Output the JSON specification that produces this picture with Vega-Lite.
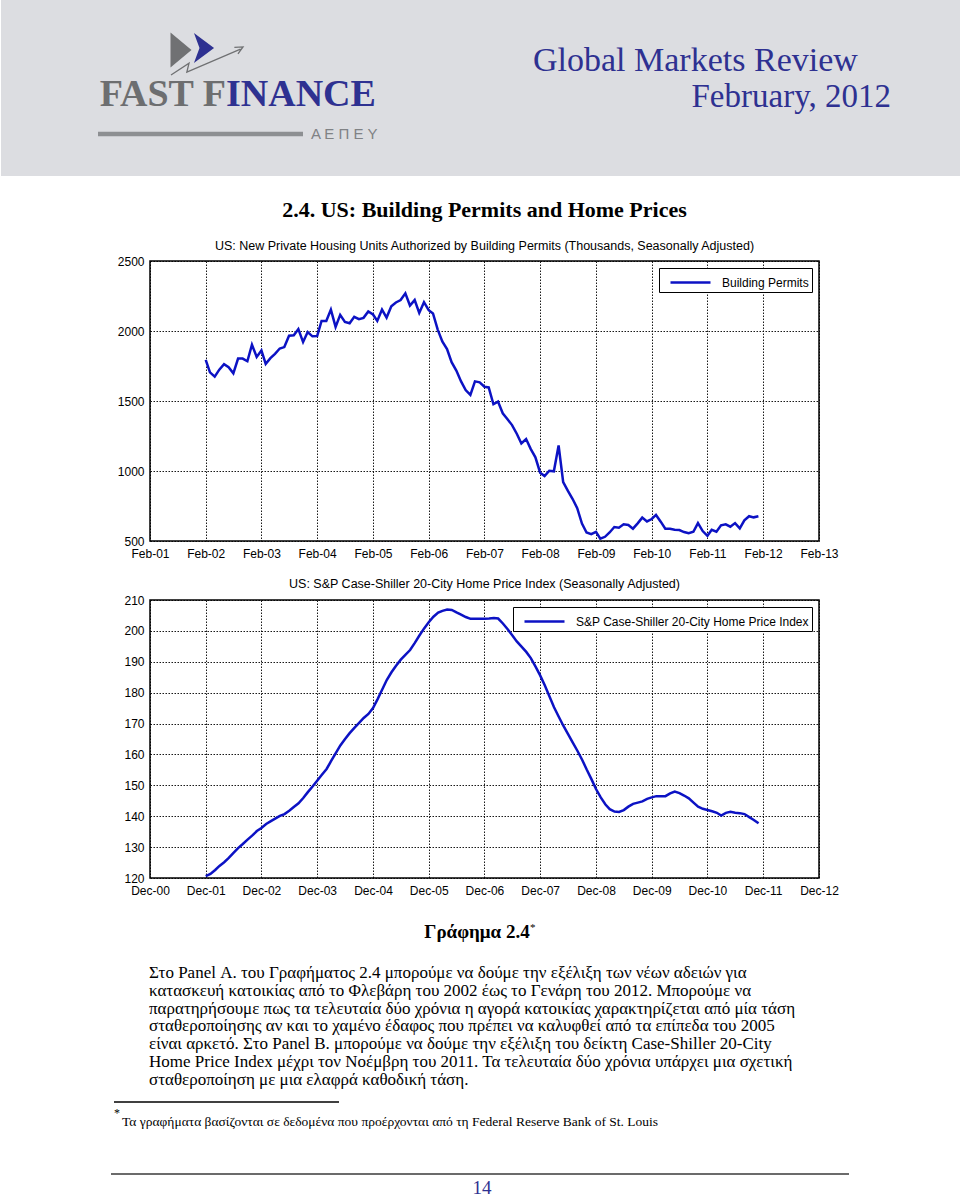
{
  "$schema": "https://vega.github.io/schema/vega-lite/v6.json",
  "padding": 0,
  "background": "white",
  "spacing": 21,
  "resolve": {"scale": {"color": "independent"}, "legend": {"color": "independent"}},
  "config": {
    "view": {"stroke": null},
    "font": "Liberation Sans",
    "axis": {
      "domain": false, "ticks": false, "tickSize": 0,
      "labelFont": "Liberation Sans", "labelFontSize": 12, "labelColor": "black",
      "labelFlush": false, "labelOverlap": false,
      "gridColor": "black", "gridDash": [1.5, 1.5], "gridWidth": 1, "gridOpacity": 0.9,
      "title": null
    },
    "legend": {
      "orient": "top-right", "offset": 7, "title": null,
      "strokeColor": "black", "fillColor": "white", "padding": 3, "cornerRadius": 0,
      "labelFont": "Liberation Sans", "labelFontSize": 12, "labelColor": "black", "labelLimit": 400,
      "symbolType": "M-0.3,0H3.7", "symbolSize": 400, "symbolStrokeWidth": 2.5, "labelOffset": 37
    }
  },
  "datasets": {
    "permits": [
      {"d":"2002-02","v":1794},{"d":"2002-03","v":1705},{"d":"2002-04","v":1674},{"d":"2002-05","v":1724},{"d":"2002-06","v":1763},{"d":"2002-07","v":1741},{"d":"2002-08","v":1698},{"d":"2002-09","v":1803},{"d":"2002-10","v":1803},{"d":"2002-11","v":1784},{"d":"2002-12","v":1902},
      {"d":"2003-01","v":1815},{"d":"2003-02","v":1861},{"d":"2003-03","v":1765},{"d":"2003-04","v":1806},{"d":"2003-05","v":1837},{"d":"2003-06","v":1875},{"d":"2003-07","v":1885},{"d":"2003-08","v":1966},{"d":"2003-09","v":1969},{"d":"2003-10","v":2014},{"d":"2003-11","v":1921},{"d":"2003-12","v":1993},
      {"d":"2004-01","v":1962},{"d":"2004-02","v":1964},{"d":"2004-03","v":2072},{"d":"2004-04","v":2072},{"d":"2004-05","v":2153},{"d":"2004-06","v":2029},{"d":"2004-07","v":2115},{"d":"2004-08","v":2065},{"d":"2004-09","v":2055},{"d":"2004-10","v":2101},{"d":"2004-11","v":2084},{"d":"2004-12","v":2094},
      {"d":"2005-01","v":2139},{"d":"2005-02","v":2118},{"d":"2005-03","v":2072},{"d":"2005-04","v":2153},{"d":"2005-05","v":2096},{"d":"2005-06","v":2177},{"d":"2005-07","v":2204},{"d":"2005-08","v":2221},{"d":"2005-09","v":2269},{"d":"2005-10","v":2182},{"d":"2005-11","v":2221},{"d":"2005-12","v":2129},
      {"d":"2006-01","v":2206},{"d":"2006-02","v":2149},{"d":"2006-03","v":2125},{"d":"2006-04","v":2010},{"d":"2006-05","v":1926},{"d":"2006-06","v":1871},{"d":"2006-07","v":1777},{"d":"2006-08","v":1717},{"d":"2006-09","v":1640},{"d":"2006-10","v":1578},{"d":"2006-11","v":1544},{"d":"2006-12","v":1640},
      {"d":"2007-01","v":1633},{"d":"2007-02","v":1602},{"d":"2007-03","v":1597},{"d":"2007-04","v":1477},{"d":"2007-05","v":1496},{"d":"2007-06","v":1412},{"d":"2007-07","v":1372},{"d":"2007-08","v":1328},{"d":"2007-09","v":1266},{"d":"2007-10","v":1197},{"d":"2007-11","v":1228},{"d":"2007-12","v":1158},
      {"d":"2008-01","v":1098},{"d":"2008-02","v":988},{"d":"2008-03","v":964},{"d":"2008-04","v":1002},{"d":"2008-05","v":998},{"d":"2008-06","v":1182},{"d":"2008-07","v":921},{"d":"2008-08","v":858},{"d":"2008-09","v":800},{"d":"2008-10","v":734},{"d":"2008-11","v":624},{"d":"2008-12","v":561},
      {"d":"2009-01","v":549},{"d":"2009-02","v":566},{"d":"2009-03","v":516},{"d":"2009-04","v":530},{"d":"2009-05","v":561},{"d":"2009-06","v":600},{"d":"2009-07","v":595},{"d":"2009-08","v":619},{"d":"2009-09","v":614},{"d":"2009-10","v":588},{"d":"2009-11","v":626},{"d":"2009-12","v":667},
      {"d":"2010-01","v":640},{"d":"2010-02","v":657},{"d":"2010-03","v":686},{"d":"2010-04","v":638},{"d":"2010-05","v":588},{"d":"2010-06","v":588},{"d":"2010-07","v":580},{"d":"2010-08","v":578},{"d":"2010-09","v":564},{"d":"2010-10","v":556},{"d":"2010-11","v":566},{"d":"2010-12","v":628},
      {"d":"2011-01","v":571},{"d":"2011-02","v":537},{"d":"2011-03","v":580},{"d":"2011-04","v":566},{"d":"2011-05","v":612},{"d":"2011-06","v":619},{"d":"2011-07","v":602},{"d":"2011-08","v":628},{"d":"2011-09","v":590},{"d":"2011-10","v":648},{"d":"2011-11","v":677},{"d":"2011-12","v":669},
      {"d":"2012-01","v":677}
    ],
    "caseshiller": [
      {"d":"2001-12","v":120.6},
      {"d":"2002-01","v":121.3},{"d":"2002-02","v":122.6},{"d":"2002-03","v":123.9},{"d":"2002-04","v":125.1},{"d":"2002-05","v":126.5},{"d":"2002-06","v":128.1},{"d":"2002-07","v":129.7},{"d":"2002-08","v":131.0},{"d":"2002-09","v":132.4},{"d":"2002-10","v":133.7},{"d":"2002-11","v":135.2},{"d":"2002-12","v":136.2},
      {"d":"2003-01","v":137.5},{"d":"2003-02","v":138.4},{"d":"2003-03","v":139.2},{"d":"2003-04","v":140.1},{"d":"2003-05","v":140.7},{"d":"2003-06","v":141.8},{"d":"2003-07","v":143.0},{"d":"2003-08","v":144.2},{"d":"2003-09","v":145.9},{"d":"2003-10","v":147.8},{"d":"2003-11","v":149.6},{"d":"2003-12","v":151.5},
      {"d":"2004-01","v":153.4},{"d":"2004-02","v":155.3},{"d":"2004-03","v":157.8},{"d":"2004-04","v":160.4},{"d":"2004-05","v":162.9},{"d":"2004-06","v":165.0},{"d":"2004-07","v":166.9},{"d":"2004-08","v":168.6},{"d":"2004-09","v":170.2},{"d":"2004-10","v":171.8},{"d":"2004-11","v":173.1},{"d":"2004-12","v":175.0},
      {"d":"2005-01","v":178.0},{"d":"2005-02","v":181.2},{"d":"2005-03","v":184.1},{"d":"2005-04","v":186.6},{"d":"2005-05","v":188.7},{"d":"2005-06","v":190.7},{"d":"2005-07","v":192.2},{"d":"2005-08","v":193.8},{"d":"2005-09","v":196.1},{"d":"2005-10","v":198.5},{"d":"2005-11","v":200.8},{"d":"2005-12","v":202.8},
      {"d":"2006-01","v":204.6},{"d":"2006-02","v":205.9},{"d":"2006-03","v":206.5},{"d":"2006-04","v":206.9},{"d":"2006-05","v":206.8},{"d":"2006-06","v":206.0},{"d":"2006-07","v":205.3},{"d":"2006-08","v":204.5},{"d":"2006-09","v":203.9},{"d":"2006-10","v":203.9},{"d":"2006-11","v":203.9},{"d":"2006-12","v":203.9},
      {"d":"2007-01","v":204.0},{"d":"2007-02","v":204.2},{"d":"2007-03","v":204.0},{"d":"2007-04","v":202.4},{"d":"2007-05","v":200.6},{"d":"2007-06","v":198.6},{"d":"2007-07","v":196.6},{"d":"2007-08","v":194.9},{"d":"2007-09","v":193.2},{"d":"2007-10","v":191.2},{"d":"2007-11","v":188.4},{"d":"2007-12","v":185.6},
      {"d":"2008-01","v":182.3},{"d":"2008-02","v":178.7},{"d":"2008-03","v":175.3},{"d":"2008-04","v":172.2},{"d":"2008-05","v":169.3},{"d":"2008-06","v":166.6},{"d":"2008-07","v":163.9},{"d":"2008-08","v":161.2},{"d":"2008-09","v":158.3},{"d":"2008-10","v":155.1},{"d":"2008-11","v":152.0},{"d":"2008-12","v":148.8},
      {"d":"2009-01","v":146.1},{"d":"2009-02","v":143.8},{"d":"2009-03","v":142.3},{"d":"2009-04","v":141.5},{"d":"2009-05","v":141.4},{"d":"2009-06","v":142.0},{"d":"2009-07","v":143.1},{"d":"2009-08","v":144.0},{"d":"2009-09","v":144.4},{"d":"2009-10","v":144.8},{"d":"2009-11","v":145.6},{"d":"2009-12","v":146.1},
      {"d":"2010-01","v":146.5},{"d":"2010-02","v":146.5},{"d":"2010-03","v":146.5},{"d":"2010-04","v":147.4},{"d":"2010-05","v":148.0},{"d":"2010-06","v":147.5},{"d":"2010-07","v":146.7},{"d":"2010-08","v":145.8},{"d":"2010-09","v":144.4},{"d":"2010-10","v":143.1},{"d":"2010-11","v":142.4},{"d":"2010-12","v":142.0},
      {"d":"2011-01","v":141.6},{"d":"2011-02","v":141.1},{"d":"2011-03","v":140.2},{"d":"2011-04","v":141.1},{"d":"2011-05","v":141.4},{"d":"2011-06","v":141.1},{"d":"2011-07","v":141.0},{"d":"2011-08","v":140.7},{"d":"2011-09","v":139.7},{"d":"2011-10","v":138.8},{"d":"2011-11","v":137.7}
    ]
  },
  "vconcat": [
    {
      "width": 811, "height": 176,
      "data": {"values": [{}]},
      "layer": [
        {"mark": {"type": "rect", "color": "#dcdde1"},
         "encoding": {"x": {"value": -149}, "x2": {"value": 811}, "y": {"value": 0}, "y2": {"value": 176}}},
        {"mark": {"type": "point", "shape": "M-0.6,-1L0.6,0L-0.6,1Z", "filled": true, "color": "#707173", "opacity": 1, "size": 1225},
         "encoding": {"x": {"value": 31}, "y": {"value": 50}}},
        {"mark": {"type": "point", "shape": "M-0.67,-1L0.67,0L-0.67,1L-0.3,0Z", "filled": true, "color": "#2e3191", "opacity": 1, "size": 900},
         "encoding": {"x": {"value": 54}, "y": {"value": 48}}},
        {"mark": {"type": "point", "shape": "M-1,0.39L-0.5,0.06L-0.56,0.31L0.93,-0.33M0.76,-0.38L1,-0.39L0.86,-0.2", "filled": false, "color": "#707173", "strokeWidth": 1.3, "opacity": 1, "size": 5184},
         "encoding": {"x": {"value": 57}, "y": {"value": 61}}},
        {"mark": {"type": "text", "text": "FAST F", "font": "Liberation Serif", "fontWeight": "bold", "fontSize": 38, "align": "right", "baseline": "alphabetic", "color": "#6d6e70"},
         "encoding": {"x": {"value": 76}, "y": {"value": 106}}},
        {"mark": {"type": "text", "text": "INANCE", "font": "Liberation Serif", "fontWeight": "bold", "fontSize": 38, "align": "left", "baseline": "alphabetic", "color": "#2e3191"},
         "encoding": {"x": {"value": 76}, "y": {"value": 106}}},
        {"mark": {"type": "rule", "color": "#8d8f92", "strokeWidth": 4.5},
         "encoding": {"x": {"value": -52}, "x2": {"value": 153}, "y": {"value": 134}}},
        {"mark": {"type": "text", "text": "Α Ε Π Ε Υ", "font": "Liberation Sans", "fontSize": 15, "align": "left", "baseline": "alphabetic", "color": "#808285"},
         "encoding": {"x": {"value": 161}, "y": {"value": 139}}},
        {"mark": {"type": "text", "text": "Global Markets Review", "font": "Liberation Serif", "fontSize": 34, "align": "left", "baseline": "alphabetic", "color": "#2e3191"},
         "encoding": {"x": {"value": 383}, "y": {"value": 71}}},
        {"mark": {"type": "text", "text": "February, 2012", "font": "Liberation Serif", "fontSize": 33, "align": "right", "baseline": "alphabetic", "color": "#2e3191"},
         "encoding": {"x": {"value": 741}, "y": {"value": 107}}}
      ]
    },
    {
      "spacing": 16,
      "resolve": {"scale": {"color": "independent"}, "legend": {"color": "independent"}},
      "vconcat": [
        {
          "width": 669, "height": 280,
          "view": {"stroke": "black", "strokeWidth": 1.5},
          "title": {
            "text": "2.4. US: Building Permits and Home Prices",
            "subtitle": "US: New Private Housing Units Authorized by Building Permits (Thousands, Seasonally Adjusted)",
            "font": "Liberation Serif", "fontSize": 22, "fontWeight": "bold", "color": "black",
            "subtitleFont": "Liberation Sans", "subtitleFontSize": 12.5, "subtitleColor": "black",
            "subtitlePadding": 18, "offset": 2, "anchor": "middle"
          },
          "data": {"name": "permits"},
          "mark": {"type": "line", "strokeWidth": 2.5, "clip": true},
          "encoding": {
            "x": {"field": "d", "type": "temporal",
              "scale": {"type": "utc", "domain": [{"year": 2001, "month": 2, "date": 1, "utc": true}, {"year": 2013, "month": 2, "date": 1, "utc": true}]},
              "axis": {"format": "%b-%y", "grid": true, "labelPadding": 7,
                "values": [
                  {"year": 2001, "month": 2, "date": 1, "utc": true}, {"year": 2002, "month": 2, "date": 1, "utc": true},
                  {"year": 2003, "month": 2, "date": 1, "utc": true}, {"year": 2004, "month": 2, "date": 1, "utc": true},
                  {"year": 2005, "month": 2, "date": 1, "utc": true}, {"year": 2006, "month": 2, "date": 1, "utc": true},
                  {"year": 2007, "month": 2, "date": 1, "utc": true}, {"year": 2008, "month": 2, "date": 1, "utc": true},
                  {"year": 2009, "month": 2, "date": 1, "utc": true}, {"year": 2010, "month": 2, "date": 1, "utc": true},
                  {"year": 2011, "month": 2, "date": 1, "utc": true}, {"year": 2012, "month": 2, "date": 1, "utc": true},
                  {"year": 2013, "month": 2, "date": 1, "utc": true}]}},
            "y": {"field": "v", "type": "quantitative",
              "scale": {"domain": [500, 2500], "nice": false, "zero": false},
              "axis": {"values": [500, 1000, 1500, 2000, 2500], "format": "d", "grid": true, "labelPadding": 6, "minExtent": 149, "maxExtent": 149}},
            "color": {"datum": "Building Permits", "scale": {"range": ["#0c12c4"]}}
          }
        },
        {
          "width": 669, "height": 278,
          "view": {"stroke": "black", "strokeWidth": 1.5},
          "title": {
            "text": "US: S&P Case-Shiller 20-City Home Price Index (Seasonally Adjusted)",
            "font": "Liberation Sans", "fontSize": 12.5, "fontWeight": "normal", "color": "black",
            "offset": 4, "anchor": "middle"
          },
          "data": {"name": "caseshiller"},
          "mark": {"type": "line", "strokeWidth": 2.5, "clip": true},
          "encoding": {
            "x": {"field": "d", "type": "temporal",
              "scale": {"type": "utc", "domain": [{"year": 2000, "month": 12, "date": 1, "utc": true}, {"year": 2012, "month": 12, "date": 1, "utc": true}]},
              "axis": {"format": "%b-%y", "grid": true, "labelPadding": 7,
                "values": [
                  {"year": 2000, "month": 12, "date": 1, "utc": true}, {"year": 2001, "month": 12, "date": 1, "utc": true},
                  {"year": 2002, "month": 12, "date": 1, "utc": true}, {"year": 2003, "month": 12, "date": 1, "utc": true},
                  {"year": 2004, "month": 12, "date": 1, "utc": true}, {"year": 2005, "month": 12, "date": 1, "utc": true},
                  {"year": 2006, "month": 12, "date": 1, "utc": true}, {"year": 2007, "month": 12, "date": 1, "utc": true},
                  {"year": 2008, "month": 12, "date": 1, "utc": true}, {"year": 2009, "month": 12, "date": 1, "utc": true},
                  {"year": 2010, "month": 12, "date": 1, "utc": true}, {"year": 2011, "month": 12, "date": 1, "utc": true},
                  {"year": 2012, "month": 12, "date": 1, "utc": true}]}},
            "y": {"field": "v", "type": "quantitative",
              "scale": {"domain": [120, 210], "nice": false, "zero": false},
              "axis": {"values": [120, 130, 140, 150, 160, 170, 180, 190, 200, 210], "format": "d", "grid": true, "labelPadding": 6, "minExtent": 149, "maxExtent": 149}},
            "color": {"datum": "S&P Case-Shiller 20-City Home Price Index", "scale": {"range": ["#0c12c4"]}}
          }
        },
        {
          "width": 811, "height": 285,
          "data": {"values": [{}]},
          "layer": [
            {"mark": {"type": "text", "text": "Γράφημα 2.4", "font": "Liberation Serif", "fontWeight": "bold", "fontSize": 19, "align": "center", "baseline": "middle", "color": "black"},
             "encoding": {"x": {"value": 327}, "y": {"value": 19}}},
            {"mark": {"type": "text", "text": "*", "font": "Liberation Serif", "fontSize": 11, "align": "left", "baseline": "middle", "color": "black"},
             "encoding": {"x": {"value": 380}, "y": {"value": 15}}},
            {"mark": {"type": "text", "font": "Liberation Serif", "fontSize": 17, "lineHeight": 17.8, "align": "left", "baseline": "middle", "color": "black",
              "text": [
                "Στο Panel Α. του Γραφήματος 2.4 μπορούμε να δούμε την εξέλιξη των νέων αδειών για",
                "κατασκευή κατοικίας από το Φλεβάρη του 2002 έως το Γενάρη του 2012. Μπορούμε να",
                "παρατηρήσουμε πως τα τελευταία δύο χρόνια η αγορά κατοικίας χαρακτηρίζεται από μία τάση",
                "σταθεροποίησης αν και το χαμένο έδαφος που πρέπει να καλυφθεί από τα επίπεδα του 2005",
                "είναι αρκετό. Στο Panel Β. μπορούμε να δούμε την εξέλιξη του δείκτη Case-Shiller 20-City",
                "Home Price Index μέχρι τον Νοέμβρη του 2011. Τα τελευταία δύο χρόνια υπάρχει μια σχετική",
                "σταθεροποίηση με μια ελαφρά καθοδική τάση."
              ]},
             "encoding": {"x": {"value": -1}, "y": {"value": 60}}},
            {"mark": {"type": "rule", "color": "black", "strokeWidth": 1.5},
             "encoding": {"x": {"value": -36}, "x2": {"value": 189}, "y": {"value": 189}}},
            {"mark": {"type": "text", "text": "*", "font": "Liberation Serif", "fontSize": 12, "align": "left", "baseline": "middle", "color": "black"},
             "encoding": {"x": {"value": -36}, "y": {"value": 200}}},
            {"mark": {"type": "text", "text": "Τα γραφήματα βασίζονται σε δεδομένα που προέρχονται από τη Federal Reserve Bank of St. Louis", "font": "Liberation Serif", "fontSize": 13.5, "align": "left", "baseline": "middle", "color": "black"},
             "encoding": {"x": {"value": -28}, "y": {"value": 209}}},
            {"mark": {"type": "rule", "color": "#6b6b6b", "strokeWidth": 2},
             "encoding": {"x": {"value": -39}, "x2": {"value": 699}, "y": {"value": 261}}},
            {"mark": {"type": "text", "text": "14", "font": "Liberation Serif", "fontSize": 19, "align": "center", "baseline": "middle", "color": "#2e3191"},
             "encoding": {"x": {"value": 332}, "y": {"value": 275}}}
          ]
        }
      ]
    }
  ]
}
